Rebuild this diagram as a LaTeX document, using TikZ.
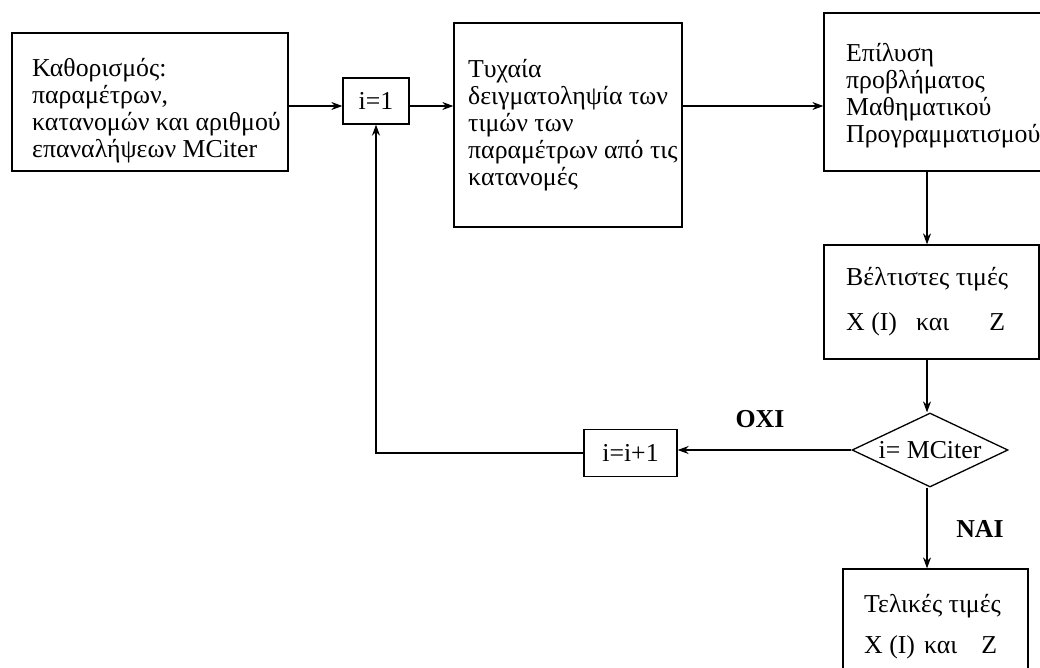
\documentclass[tikz,border=0pt]{standalone}
\usepackage{fontspec}
\setmainfont{Liberation Serif}
\usetikzlibrary{shapes.geometric,arrows.meta}
\begin{document}
\begin{tikzpicture}[x=1pt,y=-1pt,
  font=\fontsize{25.8}{27}\selectfont,
  box/.style={draw,line width=1.3pt,inner sep=0pt,rectangle},
  txt/.style={inner sep=0pt,align=left,anchor=base west},
  arr/.style={line width=1.3pt,-{Stealth[length=11pt,width=8pt]}},
  lbl/.style={font=\fontsize{25.8}{27}\selectfont\bfseries}]
\clip (0,0) rectangle (1040,667);
\fill[white] (0,0) rectangle (1040,667);
% frames
\node[box,minimum width=276pt,minimum height=138pt] (b1) at (150,102) {};
\node[box,minimum width=66pt,minimum height=46pt] (i1) at (376,101) {i=1};
\node[box,minimum width=228pt,minimum height=204pt] (b3) at (568,125) {};
\node[box,minimum width=238pt,minimum height=158pt] (b4) at (943,92) {};
\node[box,minimum width=215pt,minimum height=114pt] (b5) at (931.5,302) {};
\node[draw,diamond,aspect=2.1,inner sep=0pt,minimum width=156pt,minimum height=74pt,line width=1.3pt] (d) at (930,450) {i= MCiter};
\node[box,minimum width=93pt,minimum height=47pt] (inc) at (630.5,453) {i=i+1};
\node[box,minimum width=185pt,minimum height=131pt] (b6) at (935.5,634.5) {};
% texts (anchored at the baseline of their last line)
\node[txt] (t1) at (32,157) {Καθορισμός:\\παραμέτρων,\\κατανομών και αριθμού\\επαναλήψεων MCiter};
\node[txt] (t3) at (468,185) {Τυχαία\\δειγματοληψία των\\τιμών των\\παραμέτρων από τις\\κατανομές};
\node[txt] (t4) at (846,142) {Επίλυση\\προβλήματος\\Μαθηματικού\\Προγραμματισμού};
\node[txt] (t5) at (846,330) {Βέλτιστες τιμές\\[18pt]X (I)\hspace{19pt}και\hspace{40pt}Z};
\node[txt] (t6) at (864,653) {Τελικές τιμές\\[14pt]X (I)\hspace{9pt}και\hspace{24pt}Z};
\node[lbl] (oxi) at (760,419) {OXI};
\node[lbl] (nai) at (980,529) {NAI};
% connectors
\coordinate (row) at (0,106);
\coordinate (col) at (927,0);
\draw[arr] (b1.east |- row) -- (i1.west |- row);
\draw[arr] (i1.east |- row) -- (b3.west |- row);
\draw[arr] (b3.east |- row) -- (b4.west |- row);
\draw[arr] (b4.south -| col) -- (b5.north -| col);
\draw[arr] (b5.south -| col) -- (col |- d.north);
\draw[arr] (col |- d.south) -- (b6.north -| col);
\draw[arr] (d.west) -- (d.west -| inc.east);
\draw[arr] (inc.west) -| (i1.south);
\end{tikzpicture}
\end{document}
